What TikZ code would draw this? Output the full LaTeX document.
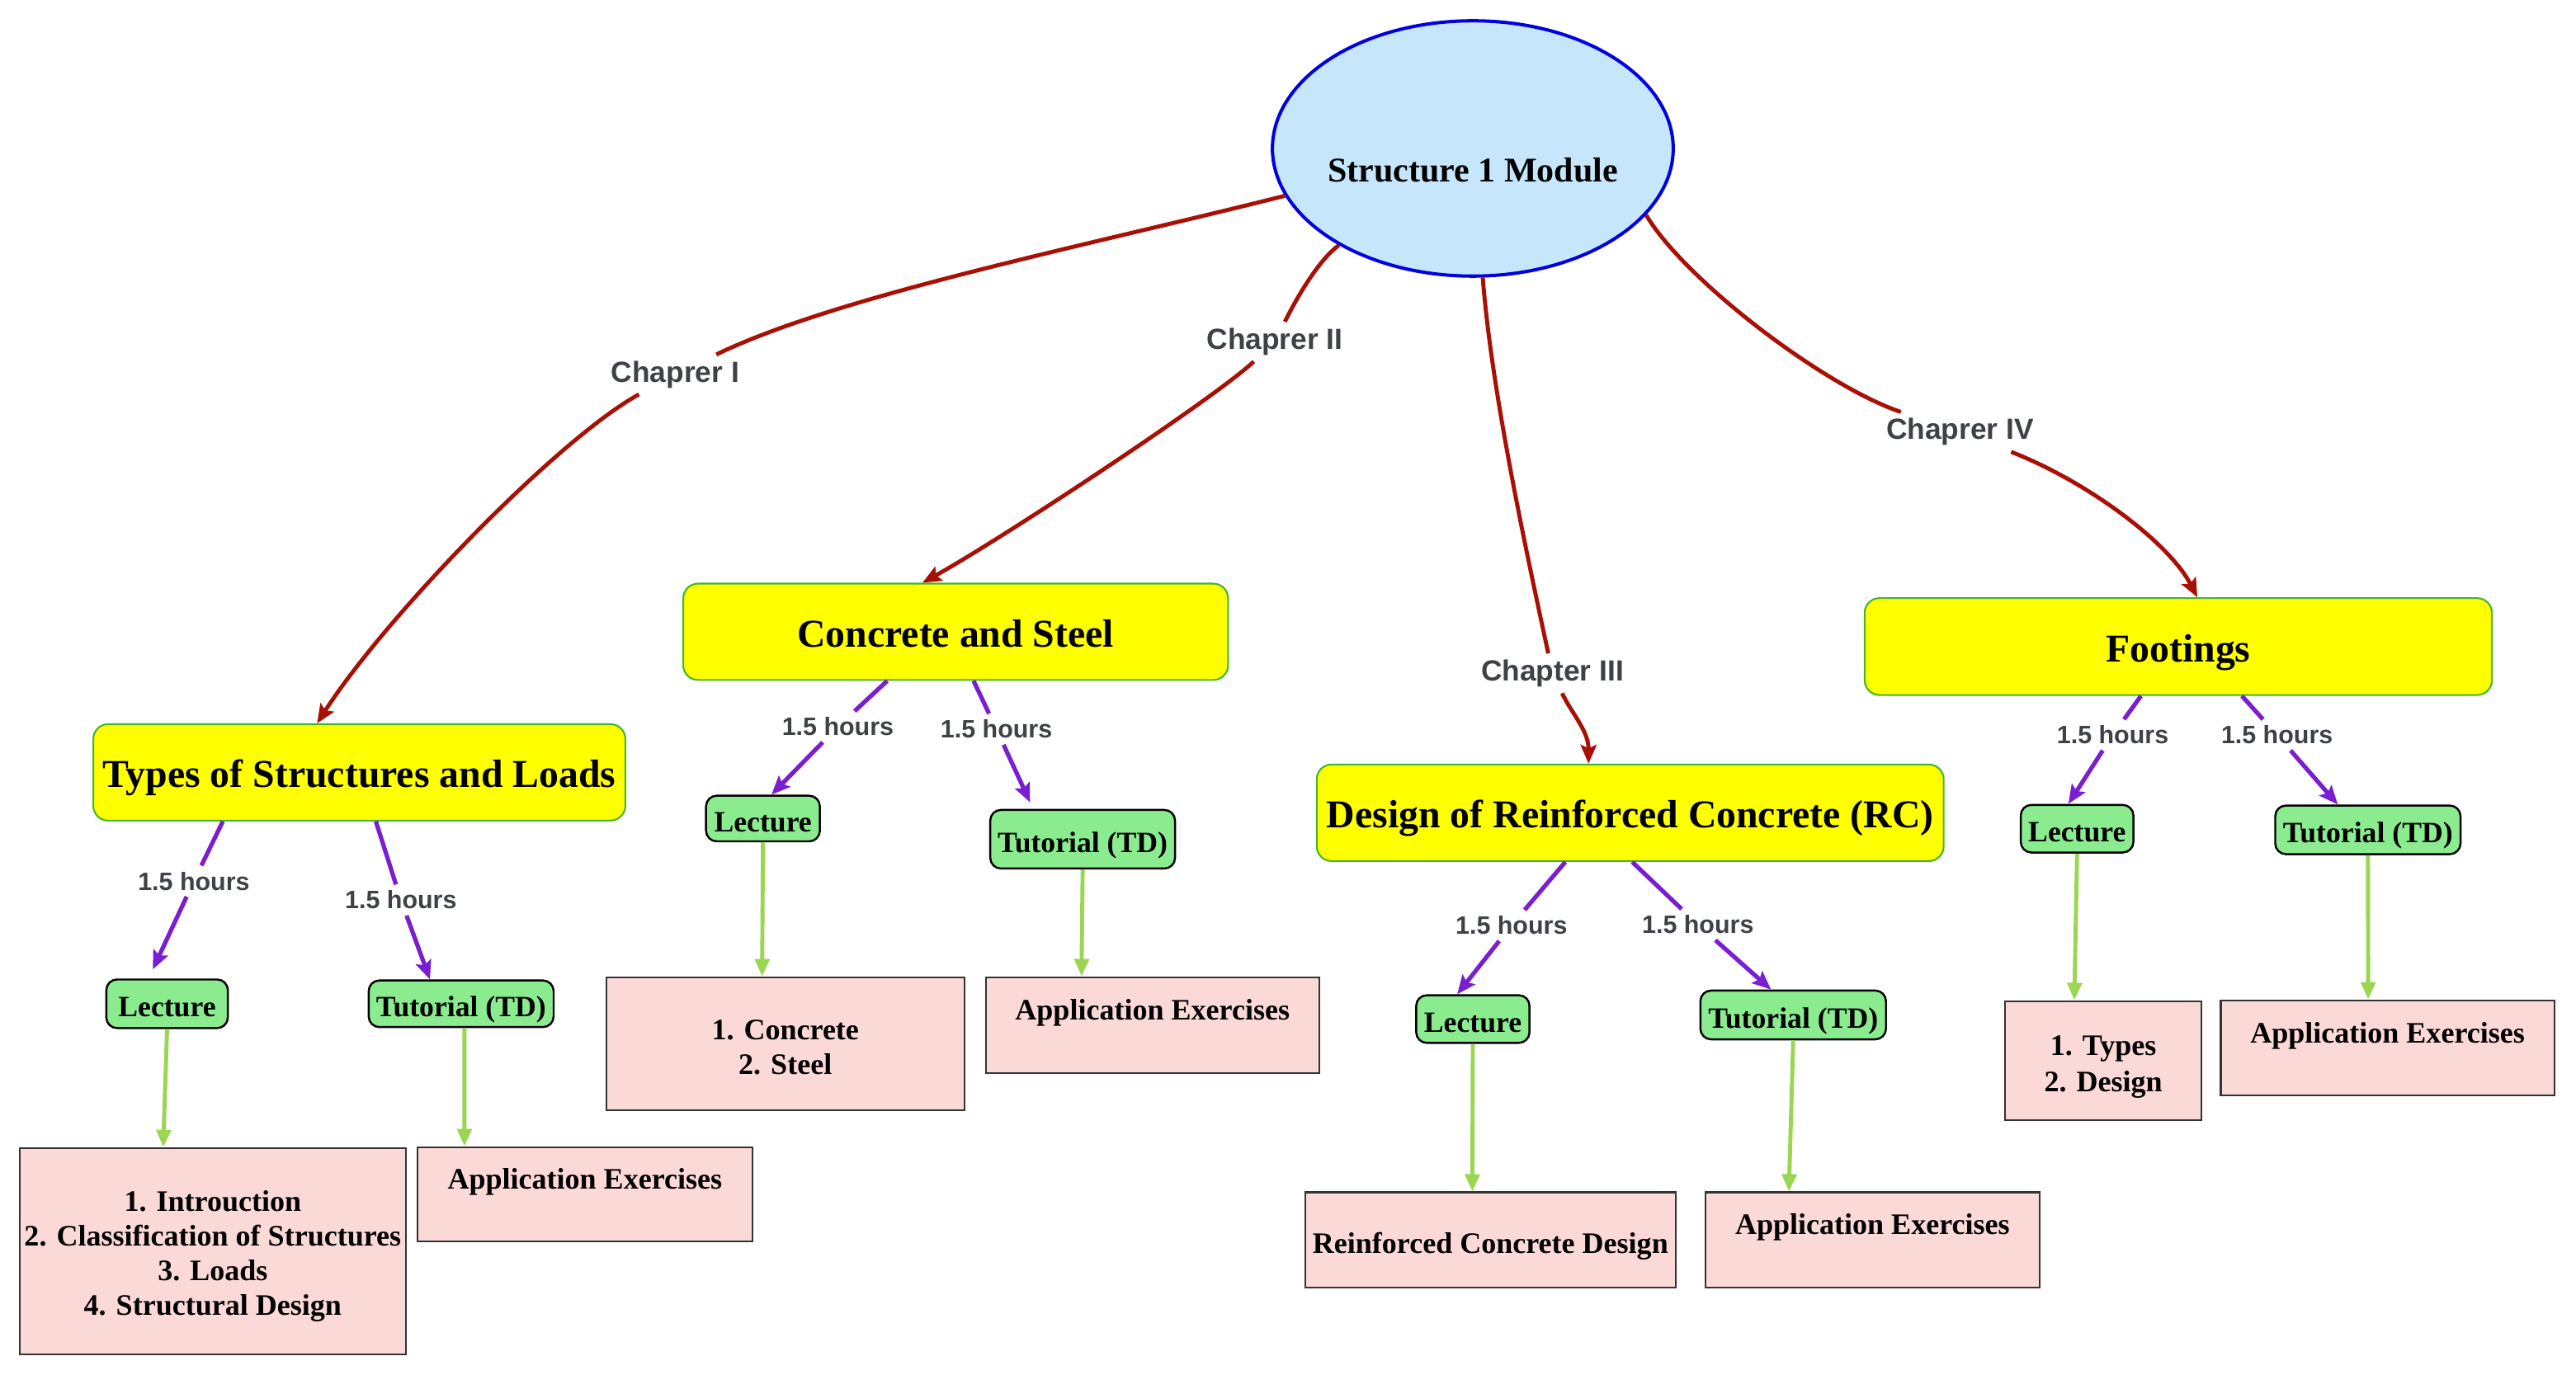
\documentclass[tikz,border=0pt]{standalone}
\usepackage{fontspec}
\setmainfont{Liberation Serif}
\newfontfamily\lblfont{Liberation Sans}
\usetikzlibrary{arrows.meta,shapes.geometric}
\definecolor{redline}{HTML}{A80F05}
\definecolor{purline}{HTML}{7A1FCF}
\definecolor{grnline}{HTML}{9AD652}
\definecolor{ellfill}{HTML}{C6E7FB}
\definecolor{ellborder}{HTML}{0000E0}
\definecolor{yelfill}{HTML}{FFFF00}
\definecolor{yelborder}{HTML}{45B52A}
\definecolor{grnfill}{HTML}{8AEC8F}
\definecolor{pinkfill}{HTML}{FBD9D7}
\definecolor{lblcol}{HTML}{3E4146}
\newcommand{\topgap}[1]{\rule{0pt}{#1}}
\begin{document}
\begin{tikzpicture}[x=0.02cm, y=-0.02cm,
  rootnode/.style={ellipse, draw=ellborder, fill=ellfill, line width=1.15pt, minimum width=4.88cm, minimum height=3.11cm, inner sep=0pt},
  chapbox/.style={draw=yelborder, fill=yelfill, line width=0.6pt, rounded corners=0.18cm, inner sep=0pt, text height=10.5pt, text depth=0pt, font=\bfseries\fontsize{13.65}{16}\selectfont},
  sessbox/.style={draw=black, fill=grnfill, line width=0.7pt, rounded corners=0.13cm, inner sep=0pt, text height=9pt, text depth=0pt, font=\bfseries\fontsize{10.2}{12}\selectfont},
  contbox/.style={draw=black!80, fill=pinkfill, line width=0.6pt, inner sep=0pt, align=center, font=\bfseries\fontsize{10.3}{12}\selectfont},
  toptext/.style={text height=7pt, text depth=10.6pt},
  midtext/.style={text height=9.4pt, text depth=0pt},
  chaplbl/.style={text=lblcol, inner sep=2pt, font=\lblfont\bfseries\fontsize{10.1}{12}\selectfont},
  hourlbl/.style={text=lblcol, inner sep=2pt, font=\lblfont\bfseries\fontsize{8.7}{10}\selectfont},
  redarr/.style={draw=redline, line width=1.4pt},
  purarr/.style={draw=purline, line width=1.5pt},
  grnarr/.style={draw=grnline, line width=1.4pt, -{Triangle[length=6pt,width=5pt]}},
  redtip/.style={-{Stealth[length=6.5pt,width=5.5pt,inset=1.2pt]}},
  purtip/.style={-{Stealth[length=6.5pt,width=5.5pt,inset=1.2pt]}},
]
\useasboundingbox (0,0) rectangle (1568,837);

% root
\node[rootnode] (root) at (896.5,90.4) {\raisebox{-11.6pt}[0pt][0pt]{\makebox[0pt]{\bfseries\fontsize{12}{14}\selectfont Structure 1 Module}}};

% chapters
\node[chapbox, minimum width=6.478cm, minimum height=1.174cm] (c1) at (218.7,470.3) {Types of Structures and Loads};
\node[chapbox, minimum width=6.634cm, minimum height=1.174cm] (c2) at (581.7,384.7) {Concrete and Steel};
\node[chapbox, minimum width=7.634cm, minimum height=1.176cm] (c3) at (992.3,494.9) {Design of Reinforced Concrete (RC)};
\node[chapbox, minimum width=7.638cm, minimum height=1.18cm] (c4) at (1325.9,393.7) {Footings};

% sessions
\node[sessbox, minimum width=1.48cm, minimum height=0.592cm] (L1) at (101.7,611.2) {Lecture};
\node[sessbox, minimum width=2.252cm, minimum height=0.568cm] (T1) at (280.7,611.2) {Tutorial (TD)};
\node[sessbox, minimum width=1.386cm, minimum height=0.556cm] (L2) at (464.4,498.4) {Lecture};
\node[sessbox, minimum width=2.25cm, minimum height=0.714cm] (T2) at (659,511) {Tutorial (TD)};
\node[sessbox, minimum width=1.38cm, minimum height=0.58cm] (L3) at (896.5,620.5) {Lecture};
\node[sessbox, minimum width=2.26cm, minimum height=0.594cm] (T3) at (1091.5,618) {Tutorial (TD)};
\node[sessbox, minimum width=1.372cm, minimum height=0.58cm] (L4) at (1264.3,504.6) {Lecture};
\node[sessbox, minimum width=2.256cm, minimum height=0.592cm] (T4) at (1441.3,505.3) {Tutorial (TD)};

% contents
\node[contbox, minimum width=4.7cm, minimum height=2.512cm] (P1) at (129.5,761.8) {\topgap{10.5pt}1. Introuction\\2. Classification of Structures\\3. Loads\\4. Structural Design};
\node[contbox, toptext, minimum width=4.08cm, minimum height=1.152cm] (P2) at (356,727.2) {Application Exercises};
\node[contbox, minimum width=4.36cm, minimum height=1.62cm] (P3) at (478,635.5) {\topgap{9.4pt}1. Concrete\\2. Steel};
\node[contbox, toptext, minimum width=4.06cm, minimum height=1.17cm] (P4) at (701.5,624.2) {Application Exercises};
\node[contbox, midtext, minimum width=4.51cm, minimum height=1.16cm] (P5) at (907.2,755) {Reinforced Concrete Design};
\node[contbox, toptext, minimum width=4.07cm, minimum height=1.16cm] (P6) at (1139.75,755) {Application Exercises};
\node[contbox, font=\bfseries\fontsize{10.3}{12.6}\selectfont, minimum width=2.388cm, minimum height=1.452cm] (P7) at (1280.3,645.8) {\topgap{11.1pt}1. Types\\2. Design};
\node[contbox, toptext, minimum width=4.06cm, minimum height=1.16cm] (P8) at (1453.25,638) {Application Exercises};

% chapter labels
\node[chaplbl] (l1) at (411,228) {Chaprer I};
\node[chaplbl] (l2) at (776,208) {Chaprer II};
\node[chaplbl] (l3) at (945,410) {Chapter III};
\node[chaplbl] (l4) at (1193,263) {Chaprer IV};

% hour labels
\node[hourlbl] (h1) at (118,536.5) {1.5 hours};
\node[hourlbl] (h2) at (244,548) {1.5 hours};
\node[hourlbl] (h3) at (510,442.5) {1.5 hours};
\node[hourlbl] (h4) at (606.5,444) {1.5 hours};
\node[hourlbl] (h5) at (920,563.5) {1.5 hours};
\node[hourlbl] (h6) at (1033.5,563) {1.5 hours};
\node[hourlbl] (h7) at (1286,447.5) {1.5 hours};
\node[hourlbl] (h8) at (1386,447.5) {1.5 hours};

% red connectors
\draw[redarr] (root) .. controls (660,150) and (510,180) .. (l1);
\draw[redarr,redtip] (l1) .. controls (340,267) and (235,375) .. ([xshift=-0.514cm]c1.north);
\draw[redarr] (root) .. controls (803,158) and (790,180) .. (l2);
\draw[redarr,redtip] (l2) .. controls (740,242) and (610,328) .. ([xshift=-0.404cm]c2.north);
\draw[redarr] (root) .. controls (908,240) and (930,340) .. (l3);
\draw[redarr,redtip] (l3) .. controls (957,435) and (967,445) .. ([xshift=-0.508cm]c3.north);
\draw[redarr] (root.-21.4) .. controls (1025,170) and (1110,235) .. (l4);
\draw[redarr,redtip] (l4) .. controls (1270,293) and (1320,330) .. ([xshift=0.232cm]c4.north);

% purple connectors
\draw[purarr] ([xshift=-1.662cm]c1.south) -- (h1);
\draw[purarr,purtip] (h1) -- ([xshift=-0.174cm,yshift=0.11cm]L1.north);
\draw[purarr] ([xshift=0.202cm]c1.south) -- (h2);
\draw[purarr,purtip] (h2) -- ([xshift=-0.38cm]T1.north);
\draw[purarr] ([xshift=-0.834cm]c2.south) -- (h3);
\draw[purarr,purtip] (h3) -- ([xshift=0.104cm]L2.north);
\draw[purarr] ([xshift=0.218cm]c2.south) -- (h4);
\draw[purarr,purtip] (h4) -- ([xshift=-0.64cm,yshift=0.08cm]T2.north);
\draw[purarr] ([xshift=-0.79cm]c3.south) -- (h5);
\draw[purarr,purtip] (h5) -- ([xshift=-0.19cm]L3.north);
\draw[purarr] ([xshift=0.024cm]c3.south) -- (h6);
\draw[purarr,purtip] (h6) -- ([xshift=-0.27cm]T3.north);
\draw[purarr] ([xshift=-0.454cm]c4.south) -- (h7);
\draw[purarr,purtip] (h7) -- ([xshift=-0.106cm]L4.north);
\draw[purarr] ([xshift=0.774cm]c4.south) -- (h8);
\draw[purarr,purtip] (h8) -- ([xshift=-0.366cm]T4.north);

% green connectors
\draw[grnarr] (L1.south) -- ([xshift=-0.604cm]P1.north);
\draw[grnarr] ([xshift=0.04cm]T1.south) -- ([xshift=-1.466cm]P2.north);
\draw[grnarr] (L2.south) -- ([xshift=-0.282cm]P3.north);
\draw[grnarr] (T2.south) -- ([xshift=-0.864cm]P4.north);
\draw[grnarr] (L3.south) -- ([xshift=-0.22cm]P5.north);
\draw[grnarr] (T3.south) -- ([xshift=-1.018cm]P6.north);
\draw[grnarr] (L4.south) -- ([xshift=-0.354cm]P7.north);
\draw[grnarr] (T4.south) -- ([xshift=-0.235cm]P8.north);
\end{tikzpicture}
\end{document}
